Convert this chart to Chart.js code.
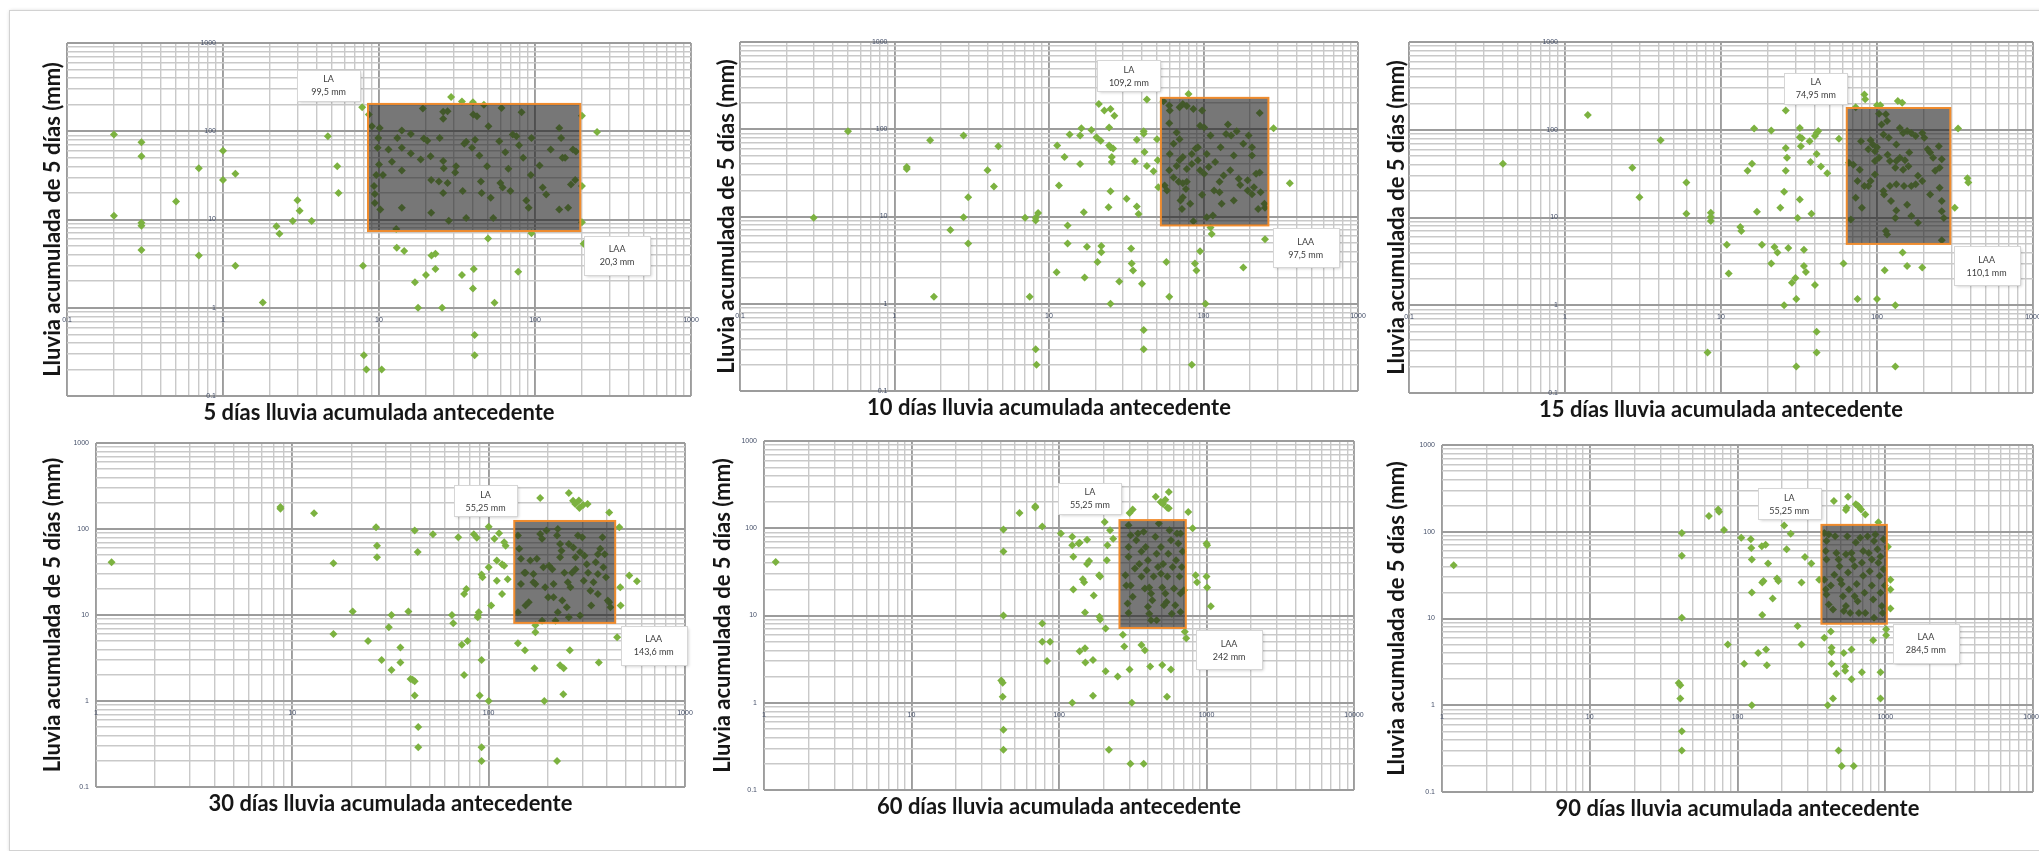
<!DOCTYPE html>
<html>
<head>
<meta charset="utf-8">
<title>Umbrales de lluvia</title>
<script src="https://cdn.jsdelivr.net/npm/chart.js@4.4.1/dist/chart.umd.min.js"></script>
<style>
  html, body { margin: 0; padding: 0; background: #fff; }
  #hoja { position: relative; width: 2039px; height: 851px; overflow: hidden; background: #fff; }
  #marco {
    position: absolute; left: 9px; top: 10px; width: 2060px; height: 839px;
    border: 1px solid #d2d2d2; box-shadow: 1px 1px 4px rgba(0, 0, 0, 0.22);
  }
  canvas { position: absolute; }
</style>
</head>
<body>
<div id="hoja">
  <div id="marco"></div>
  <canvas id="c0"></canvas>
  <canvas id="c1"></canvas>
  <canvas id="c2"></canvas>
  <canvas id="c3"></canvas>
  <canvas id="c4"></canvas>
  <canvas id="c5"></canvas>
</div>
<script>
// lluvia antecedente (x) vs lluvia acumulada de 5 días (y), en mm
const puntos5d = [
  [0.2, 92], [0.2, 11], [0.3, 75], [0.3, 52], [0.3, 9.2], [0.3, 8.5], [0.3, 4.5], [0.5, 16], [0.7, 38], [0.7, 3.9],
  [1, 60], [1, 28], [1.2, 33], [1.2, 3], [1.8, 1.15], [2.2, 8.4], [2.3, 6.9], [2.8, 9.6], [3, 16.5], [3.1, 12.6],
  [3.7, 9.6], [4.7, 88], [5.4, 40], [5.5, 20], [7.8, 187], [7.9, 3], [8, 0.29], [8.3, 0.2], [10.4, 0.2], [8.6, 155],
  [13, 4.8], [14.5, 4.4], [17, 1.95], [17.8, 1], [20, 2.35], [21.7, 3.9], [23, 4.1], [23, 2.75], [25.4, 1], [29, 245],
  [34, 2.35], [34, 218], [40, 213], [40, 1.65], [40.5, 2.75], [41, 0.49], [41, 0.29], [47, 200], [50, 6.1], [55, 1.14],
  [78, 2.56], [95, 7], [200, 150], [200, 24], [200, 9.3], [250, 98], [205, 5.3],
  [9, 114], [10.1, 109], [9.9, 84], [9.8, 65], [11.5, 62], [10, 42], [9.6, 32], [10.6, 32], [9.3, 24], [9.4, 19.5],
  [9.4, 15.4], [10.2, 13], [12.1, 45], [13.1, 84], [14, 102], [14, 65], [16, 93], [16, 56], [14, 36], [14, 13.6],
  [12.9, 7.8], [19.1, 181], [19.4, 83], [18.5, 48], [20.4, 78], [21.4, 52], [24.5, 84], [25.8, 166], [25.8, 139], [27.5, 168],
  [21.6, 28], [24.2, 27], [25.8, 46], [26, 38], [25.8, 20], [27.5, 26], [21.6, 11.9], [28, 9.7], [30.8, 34], [31.2, 40],
  [34.4, 21], [36.2, 10.4], [35.2, 72], [36.2, 76], [41.3, 80], [40.2, 155], [42.5, 148], [39.5, 65], [44, 53], [45, 27],
  [45.5, 20], [49.3, 40], [50.3, 114], [52, 17.6], [54, 10.4], [61, 184], [59, 77], [60, 26], [62, 23], [64.5, 58],
  [67.5, 37.5], [72, 92], [69.5, 21], [82, 164], [84, 50], [79, 69.5], [76, 88], [88, 16.4], [91, 13.6], [94, 32],
  [95, 84], [107, 41], [112, 23], [118, 19.2], [126, 62], [143, 109], [147, 84], [143, 13], [150, 50], [156, 50],
  [163, 13.6], [175, 62], [183, 59], [181, 28], [170, 25]
];

const puntos10d = [
  [0.3, 9.7], [0.5, 95], [1.2, 35], [1.2, 37], [1.7, 75], [1.8, 1.2], [2.3, 7], [2.8, 85], [2.8, 9.8], [3, 16.6],
  [3, 4.9], [4, 34], [4.4, 22], [4.7, 64], [7, 9.7], [7.5, 1.2], [8.2, 9.7], [8.2, 9], [8.5, 11], [8.2, 0.3],
  [8.3, 0.2], [11.2, 2.3], [11.3, 65], [11.6, 22.6], [12.6, 48], [13.2, 7.9], [13.2, 4.9], [13.6, 87], [15.9, 85], [16.2, 103],
  [15.9, 40], [16.8, 11.2], [17, 2], [17.6, 4.5], [18.8, 98], [20.3, 81], [21, 195], [20.6, 3], [21.6, 74], [21.8, 4.6],
  [21.8, 3.9], [22.8, 164], [24.3, 12.8], [24.5, 105], [24.5, 65], [25, 62], [26, 60], [25.5, 48], [25.5, 42], [25, 171],
  [26.5, 143], [25, 19.5], [25, 1], [28.5, 1.8], [31.8, 16], [34, 4.3], [34.3, 2.9], [35, 2.4], [37, 13], [38, 10.7],
  [37, 76], [40, 1.7], [41, 0.5], [41, 0.3], [41, 95], [41, 89], [41.5, 55], [43, 219], [43, 38], [36, 43],
  [47.5, 33], [50, 77], [50.5, 44], [51, 21.7], [57.5, 3], [60, 1.2], [80, 254], [84, 0.2], [88, 2.9], [90, 2.4],
  [95, 4], [103, 1], [111, 7.5], [113, 6.3], [181, 2.6], [231, 154], [250, 5.5], [248, 14], [250, 12.6], [284, 103],
  [362, 24],
  [55, 209], [60, 187], [60.5, 164], [70, 179], [73.5, 195], [78, 185], [86, 171], [98, 164], [60, 117], [67, 92],
  [70, 77], [64, 68], [73.5, 48], [84, 52], [92, 62], [95, 110], [101, 105], [111, 85], [129, 62], [144, 113],
  [151, 85], [140, 88], [164, 95], [157, 50], [181, 68], [196, 85], [206, 62], [206, 50], [193, 26], [219, 31],
  [206, 18], [193, 19.8], [212, 21.7], [231, 32], [127, 25], [135, 29.5], [149, 34], [169, 27], [173, 23], [157, 15.3],
  [127, 19], [131, 14], [117, 19.8], [108, 37], [119, 42], [101, 31], [92, 44], [105, 52], [84, 40], [78, 35],
  [70, 44], [67, 38], [60, 34], [56, 22.6], [58, 19.8], [64, 28], [69, 25], [73.5, 24], [78, 25], [77, 20.7],
  [73.5, 16.6], [71, 15.3], [82, 14], [72.5, 12.2], [98, 17.7], [115, 10.3], [105, 9.8], [86, 8.8], [226, 12.2], [234, 19],
  [60.5, 52], [89, 60], [95, 34]
];

const puntos15d = [
  [0.4, 41], [1.4, 147], [2.7, 37], [3, 17], [4.1, 76], [6, 25], [6, 11], [8.6, 11.3], [8.6, 10.1], [8.6, 9.1],
  [10.9, 4.9], [11.2, 2.3], [8.2, 0.29], [13.3, 7.8], [13.5, 7], [14.8, 34], [15.8, 41], [16.3, 103], [17, 11.6], [18.3, 4.9],
  [21, 98], [21, 3], [22, 4.6], [23, 4], [24, 12.9], [25.4, 19.6], [26, 34], [26, 166], [26, 62], [26.5, 48],
  [27, 4.5], [25.4, 1], [28.5, 1.8], [30, 2.05], [30.4, 1.18], [30.4, 0.2], [31, 9.9], [32, 16], [32, 105], [32, 82],
  [32.5, 65], [33, 80], [34, 4.3], [34, 2.8], [35, 2.4], [37, 74], [40, 85], [41, 92], [42, 97], [37.5, 43],
  [38, 11], [40, 1.7], [41, 53], [41, 0.5], [41, 0.29], [43.7, 38], [48, 32], [57, 79], [61, 3], [73, 181],
  [75, 1.18], [83, 253], [84, 222], [100, 190], [105, 190], [100, 1.18], [112, 2.5], [131, 1], [131, 0.2], [136, 212],
  [145, 203], [146, 4], [156, 2.8], [195, 2.7], [315, 12.9], [331, 103], [380, 28], [385, 25],
  [66, 42], [70.5, 40], [77.5, 35], [79, 74], [88, 60], [91, 76], [94, 68], [97, 44], [100, 63], [103, 152],
  [107, 115], [110, 88], [114, 150], [116, 126], [117, 52], [119, 81], [133, 68], [140, 105], [147, 92], [156, 97],
  [166, 92], [177, 85], [195, 92], [201, 81], [211, 60], [219, 55], [229, 48], [249, 65], [260, 46], [252, 37],
  [161, 55], [151, 45], [140, 48], [133, 44], [131, 37], [147, 35], [159, 38.5], [183, 30], [195, 26], [177, 24],
  [166, 22.8], [149, 22.8], [133, 24], [121, 22.8], [110, 20], [97, 31], [88, 22.8], [83, 22.8], [75, 26], [73, 16.8],
  [80, 12.9], [68, 9.5], [111, 18.3], [123, 15.4], [133, 12], [131, 9.9], [156, 14], [166, 10.4], [183, 8.7], [219, 18.3],
  [252, 21.8], [260, 15.4], [260, 11.8], [268, 9.9], [260, 5.5], [114, 7], [116, 6.4], [91, 26], [103, 48], [121, 44],
  [236, 34], [97, 57]
];

const puntos30d = [
  [1.2, 41], [8.7, 180], [8.7, 172], [12.9, 152], [16.2, 40], [16.2, 6], [20.3, 11], [24.3, 5], [26.7, 105], [27, 64],
  [27, 47], [32, 10], [31, 7.2], [28.5, 3], [32, 2.3], [35.5, 4.2], [35.5, 2.8], [39, 11], [40, 1.8], [41, 1.77],
  [42, 1.7], [42, 96], [43.5, 54], [42, 1.16], [43.8, 0.5], [43.8, 0.29], [52, 87], [65, 10], [66, 8], [70, 80],
  [73, 4.5], [78, 5], [75, 17.6], [77, 20], [75, 2], [84, 87], [87, 79], [88, 9.4], [88, 9.9], [89, 10.8],
  [92, 29.5], [93, 27.5], [92, 3], [90, 1.16], [92, 0.29], [92, 0.2], [100, 36], [103, 12.9], [100, 106], [100, 1],
  [107, 77], [110, 43], [110, 25], [113, 89], [117, 17.6], [117, 39], [120, 37.5], [120, 70], [122, 64], [125, 26],
  [141, 4.7], [153, 3.9], [171, 2.4], [173, 6.3], [173, 7.6], [183, 229], [192, 1], [223, 0.2], [231, 2.6], [241, 2.4],
  [240, 1.2], [256, 262], [269, 213], [276, 195], [290, 175], [259, 3.9], [288, 215], [303, 190], [319, 195], [364, 2.8],
  [411, 156], [463, 105], [468, 21], [470, 12.9], [451, 5.5], [520, 28.7], [569, 24.7],
  [141, 84], [143, 59], [146, 45], [146, 23], [152, 31], [154, 12.9], [160, 14.1], [163, 43], [169, 24], [173, 23],
  [176, 45], [183, 87.5], [187, 77], [190, 36], [197, 96], [203, 37.5], [211, 34], [214, 23], [223, 84], [225, 100],
  [231, 67], [231, 47], [235, 56], [243, 31], [253, 24], [256, 67], [261, 21], [266, 31], [270, 61], [277, 47],
  [285, 84], [292, 54], [300, 80], [308, 49], [316, 39], [321, 31], [330, 19.2], [342, 24], [351, 41], [360, 51],
  [370, 59], [380, 80], [390, 51], [384, 36], [396, 27.5], [404, 14.7], [411, 14.1], [417, 12.3], [360, 17.6], [333, 12.9],
  [292, 9.9], [250, 12.3], [225, 10.8], [201, 16.1], [187, 8.6], [219, 8.6], [256, 9.4], [141, 10.8], [154, 31], [169, 30],
  [194, 21], [277, 34], [305, 25], [360, 30], [237, 14.7], [214, 16.1]
];

const puntos60d = [
  [1.2, 41], [40.6, 1.8], [41.5, 1.7], [42, 97], [42, 54], [42, 10], [41.5, 1.17], [42, 0.49], [42, 0.29], [54, 150],
  [69, 179], [69, 173], [77, 105], [77, 8.1], [77, 5], [87, 5], [83, 3], [103, 87], [123, 80], [123, 64],
  [136, 67], [138, 68], [125, 47], [125, 19.8], [123, 1], [138, 3.9], [150, 4.2], [145, 26], [148, 24], [150, 10.8],
  [151, 2.9], [155, 74], [155, 39], [160, 42], [170, 3.1], [170, 1.2], [172, 17], [187, 29], [190, 28], [188, 9.7],
  [190, 9], [204, 118], [207, 7.1], [207, 2.3], [213, 64], [218, 0.29], [222, 95], [233, 76], [250, 2], [211, 43],
  [271, 6], [277, 4.4], [301, 150], [316, 164], [301, 2.4], [312, 1], [305, 0.2], [362, 4.6], [382, 4], [375, 0.2],
  [415, 2.6], [453, 229], [501, 2.7], [489, 200], [508, 190], [526, 212], [543, 172], [555, 169], [555, 261], [540, 1.17],
  [574, 2.4], [752, 154], [805, 100], [713, 6.5], [729, 5.5], [844, 29], [862, 24], [1000, 67], [1010, 64], [1000, 28],
  [1010, 21], [1070, 12.8],
  [296, 108], [306, 83], [296, 61], [296, 47], [282, 29], [286, 22], [292, 13.7], [296, 10.7], [306, 22], [316, 16.4],
  [334, 73], [343, 87], [350, 39], [362, 54], [375, 91], [387, 61], [393, 33], [401, 43], [409, 21], [401, 12.6],
  [409, 10.5], [421, 8.8], [429, 15], [438, 28], [450, 80], [459, 51], [469, 36], [475, 113], [491, 61], [501, 21],
  [508, 39], [526, 17.9], [536, 14.3], [543, 28], [551, 51], [562, 95], [574, 73], [582, 10.5], [590, 36], [602, 20.4],
  [622, 43], [631, 87], [644, 67], [657, 28], [667, 17.9], [680, 36], [689, 54], [667, 11], [614, 13.1], [515, 13.1],
  [459, 8.8], [421, 17.9], [362, 28], [327, 34.5], [667, 87], [703, 19.5], [491, 30], [382, 20.4]
];

const puntos90d = [
  [1.2, 41], [40, 1.8], [41, 1.7], [41, 1.2], [42, 97], [42, 53], [42, 10.2], [42, 0.5], [42, 0.3], [64, 152],
  [74, 181], [75, 170], [81, 105], [86, 5], [106, 85], [111, 3], [123, 82], [124, 65], [125, 48], [125, 20],
  [125, 1], [138, 4], [146, 68], [155, 71], [147, 26], [150, 27], [147, 11], [156, 4.4], [158, 2.9], [161, 43],
  [173, 17], [185, 29], [189, 27], [207, 118], [215, 63], [229, 95], [255, 8.2], [271, 26], [271, 5], [286, 51],
  [316, 43], [357, 28], [387, 6], [408, 1], [428, 7.1], [433, 4.6], [433, 4.1], [433, 3], [443, 1.2], [449, 226],
  [467, 2.3], [483, 0.3], [507, 0.2], [524, 4], [535, 2.8], [535, 2.5], [542, 178], [548, 189], [560, 253], [591, 4.4],
  [591, 2], [612, 0.2], [632, 207], [650, 201], [663, 194], [686, 181], [733, 158], [695, 2.4], [829, 5.6], [898, 129],
  [929, 2.4], [929, 1.2], [1014, 7.5], [1014, 6.4], [1042, 67], [1084, 28], [1084, 21.6], [1084, 13],
  [387, 97], [400, 78], [414, 93], [395, 60], [400, 48], [387, 28], [395, 21.6], [400, 18.9], [414, 14.5], [443, 12.7],
  [458, 89], [467, 57], [483, 48], [490, 40], [496, 28], [507, 25], [517, 18.1], [524, 12.2], [542, 13.9], [553, 89],
  [560, 34], [568, 21.6], [579, 11.6], [591, 57], [600, 48], [620, 40], [632, 75], [641, 25], [650, 15.8], [677, 85],
  [695, 44], [709, 31], [724, 19.8], [733, 11.6], [759, 89], [774, 57], [785, 35], [811, 24], [829, 16.6], [839, 10.2],
  [857, 93], [885, 63], [898, 44], [916, 31], [929, 19.8], [948, 13.9], [973, 82], [973, 37], [993, 24], [960, 11.6],
  [709, 60], [620, 18.1], [542, 55], [839, 78], [452, 32], [811, 48], [663, 11.6], [929, 52], [428, 24]
];

const puntos = [puntos5d, puntos10d, puntos15d, puntos30d, puntos60d, puntos90d];

const rangosX = [[0.1, 1000], [0.1, 1000], [0.1, 1000], [1, 1000], [1, 10000], [1, 10000]];
const rangoY = [0.1, 1000];

const titulosX = [
  '5 días lluvia acumulada antecedente',
  '10 días lluvia acumulada antecedente',
  '15 días lluvia acumulada antecedente',
  '30 días lluvia acumulada antecedente',
  '60 días lluvia acumulada antecedente',
  '90 días lluvia acumulada antecedente'
];
const tituloY = 'Lluvia acumulada de 5 días (mm)';

// zona de umbral: [min, max] en cada eje
const umbralX = [[8.5, 195], [53, 263], [64, 295], [135, 441], [257, 724], [370, 1025]];
const umbralY = [[7.4, 204], [7.9, 229], [5.0, 177], [8.1, 124], [7.2, 124], [8.7, 120]];

const textoLA = ['99,5 mm', '109,2 mm', '74,95 mm', '55,25 mm', '55,25 mm', '55,25 mm'];
const textoLAA = ['20,3 mm', '97,5 mm', '110,1 mm', '143,6 mm', '242 mm', '284,5 mm'];
const anclaLA = [[4.75, 333], [32.9, 408], [40.5, 296], [96.4, 213], [162, 219], [224, 209]];
const anclaLAA = [[336, 3.95], [459, 4.4], [504, 2.83], [693, 4.43], [1422, 4.05], [1883, 5.2]];

// posición de cada lienzo en la hoja y márgenes del área de trazado
const lienzos = [
  { left: 0,    top: 0,   w: 700, h: 430, pad: { left: 67, top: 43, right: 9,  bottom: 34 }, ty: -14 },
  { left: 700,  top: 0,   w: 670, h: 430, pad: { left: 40, top: 42, right: 12, bottom: 39 }, ty: -13 },
  { left: 1370, top: 0,   w: 669, h: 430, pad: { left: 39, top: 42, right: 6,  bottom: 37 }, ty: -12 },
  { left: 0,    top: 430, w: 700, h: 421, pad: { left: 96, top: 13, right: 15, bottom: 64 }, ty: -43 },
  { left: 700,  top: 430, w: 670, h: 421, pad: { left: 64, top: 11, right: 16, bottom: 61 }, ty: -41 },
  { left: 1370, top: 430, w: 669, h: 421, pad: { left: 72, top: 15, right: 6,  bottom: 59 }, ty: -45 }
];

function esDecada(v) {
  const l = Math.log10(v);
  return Math.abs(l - Math.round(l)) < 1e-9;
}

function divisiones(min, max) {
  const out = [];
  for (let e = Math.round(Math.log10(min)); e < Math.round(Math.log10(max)); e++) {
    for (let m = 1; m <= 9; m++) out.push(m * Math.pow(10, e));
  }
  out.push(max);
  return out;
}

function decadas(min, max) {
  const out = [];
  for (let e = Math.round(Math.log10(min)); e <= Math.round(Math.log10(max)); e++) out.push(Math.pow(10, e));
  return out;
}

function formato(v) {
  return v < 1 ? String(Number(v.toFixed(1))) : String(Math.round(v));
}

function ajustar(ctx, texto, ancho) {
  ctx.font = 'bold 20px Lato';
  return 20 * ancho / ctx.measureText(texto).width;
}

function cuadro(ctx, cx, cy, w, h, l1, l2) {
  const x0 = Math.round(cx - w / 2) + 0.5, y0 = Math.round(cy - h / 2) + 0.5;
  ctx.save();
  ctx.shadowColor = 'rgba(0,0,0,0.22)';
  ctx.shadowBlur = 3;
  ctx.shadowOffsetX = 1;
  ctx.shadowOffsetY = 1;
  ctx.fillStyle = '#fff';
  ctx.fillRect(x0, y0, w, h);
  ctx.restore();
  ctx.strokeStyle = '#d6d6d6';
  ctx.lineWidth = 1;
  ctx.strokeRect(x0, y0, w, h);
  ctx.font = '9px Lato';
  ctx.fillStyle = '#3c3c3c';
  ctx.textAlign = 'center';
  ctx.textBaseline = 'middle';
  ctx.fillText(l1, cx, cy - 6);
  ctx.fillText(l2, cx, cy + 7);
}

const decoracion = {
  id: 'decoracion',
  afterDatasetsDraw(chart, args, opts) {
    const i = opts.panel;
    const { ctx, scales: { x, y } } = chart;
    const l = x.getPixelForValue(umbralX[i][0]), r = x.getPixelForValue(umbralX[i][1]);
    const t = y.getPixelForValue(umbralY[i][1]), b = y.getPixelForValue(umbralY[i][0]);
    ctx.save();
    ctx.fillStyle = 'rgba(28,28,28,0.6)';
    ctx.fillRect(l, t, r - l, b - t);
    ctx.strokeStyle = '#f08c2e';
    ctx.lineWidth = 2;
    ctx.strokeRect(l, t, r - l, b - t);
    ctx.restore();
  },
  afterDraw(chart, args, opts) {
    const i = opts.panel;
    const { ctx, chartArea: area, scales: { x, y } } = chart;
    ctx.save();

    // etiquetas de los ejes, en el cruce con 1
    const x1 = x.getPixelForValue(1), y1 = y.getPixelForValue(1);
    ctx.font = '7px "Liberation Sans"';
    ctx.fillStyle = '#46516a';
    ctx.textBaseline = 'middle';
    ctx.textAlign = 'right';
    decadas(rangoY[0], rangoY[1]).forEach(v => ctx.fillText(formato(v), x1 - 7, y.getPixelForValue(v)));
    ctx.textAlign = 'center';
    decadas(rangosX[i][0], rangosX[i][1]).forEach(v => ctx.fillText(formato(v), x.getPixelForValue(v), y1 + 12));

    // anotaciones LA / LAA
    cuadro(ctx, x.getPixelForValue(anclaLA[i][0]), y.getPixelForValue(anclaLA[i][1]), 63, 31, 'LA', textoLA[i]);
    cuadro(ctx, x.getPixelForValue(anclaLAA[i][0]), y.getPixelForValue(anclaLAA[i][1]), 66, 39, 'LAA', textoLAA[i]);

    // títulos
    const tamX = ajustar(ctx, titulosX[1], 364);
    const tamY = ajustar(ctx, tituloY, 315);
    ctx.fillStyle = '#161616';
    ctx.textAlign = 'center';
    ctx.textBaseline = 'middle';
    ctx.font = `bold ${tamX}px Lato`;
    ctx.fillText(titulosX[i], (area.left + area.right) / 2, area.bottom + 17);
    ctx.translate(area.left + lienzos[i].ty, (area.top + area.bottom) / 2);
    ctx.rotate(-Math.PI / 2);
    ctx.font = `bold ${tamY}px Lato`;
    ctx.fillText(tituloY, 0, 0);
    ctx.restore();
  }
};

function ejeLog(min, max) {
  return {
    type: 'logarithmic',
    min: min,
    max: max,
    afterBuildTicks: scale => {
      scale.ticks = divisiones(min, max).map(v => ({ value: v, major: esDecada(v) }));
    },
    ticks: { display: false, autoSkip: false },
    grid: {
      drawTicks: false,
      color: c => esDecada(c.tick.value) ? '#9c9c9c' : '#c9c9c9',
      lineWidth: c => esDecada(c.tick.value) ? 1.9 : 1.4
    },
    border: { display: false },
    title: { display: false }
  };
}

lienzos.forEach((lz, i) => {
  const canvas = document.getElementById('c' + i);
  canvas.width = lz.w;
  canvas.height = lz.h;
  canvas.style.left = lz.left + 'px';
  canvas.style.top = lz.top + 'px';

  new Chart(canvas, {
    type: 'scatter',
    data: {
      datasets: [{
        data: puntos[i].map(([x, y]) => ({ x, y })),
        pointStyle: 'rectRot',
        pointRadius: 4,
        pointHoverRadius: 4,
        backgroundColor: '#7cb240',
        borderWidth: 0
      }]
    },
    options: {
      responsive: false,
      animation: false,
      devicePixelRatio: 1,
      layout: { padding: lz.pad, autoPadding: false },
      plugins: {
        legend: { display: false },
        tooltip: { enabled: false },
        decoracion: { panel: i }
      },
      scales: {
        x: ejeLog(rangosX[i][0], rangosX[i][1]),
        y: ejeLog(rangoY[0], rangoY[1])
      }
    },
    plugins: [decoracion]
  });
});
</script>
</body>
</html>
